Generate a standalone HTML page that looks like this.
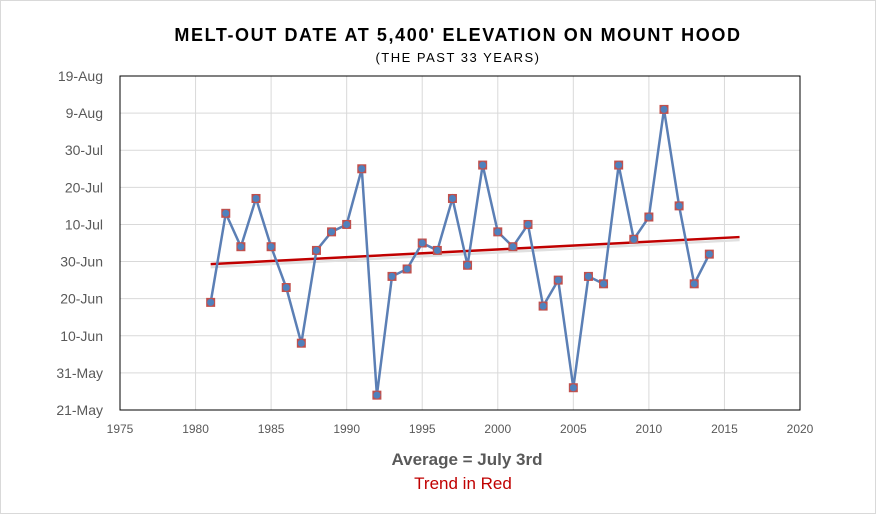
<!DOCTYPE html>
<html><head><meta charset="utf-8"><style>
body{margin:0;background:#fff;}
svg{display:block;font-family:"Liberation Sans",sans-serif;}
</style></head><body>
<svg width="876" height="514" id="c">
<rect x="0.5" y="0.5" width="875" height="513" fill="#fff" stroke="#d9d9d9"/>
<text x="458" y="41" text-anchor="middle" font-size="18" font-weight="bold" letter-spacing="1.6" fill="#000">MELT-OUT DATE AT 5,400' ELEVATION ON MOUNT HOOD</text>
<text x="458" y="62" text-anchor="middle" font-size="13" letter-spacing="1.5" fill="#000">(THE PAST 33 YEARS)</text>
<text x="467" y="465" text-anchor="middle" font-size="17" font-weight="bold" fill="#595959">Average = July 3rd</text>
<text x="463" y="489" text-anchor="middle" font-size="17" fill="#c00000">Trend in Red</text>
<g id="grid"></g><g id="axes"></g><g id="trend"></g><g id="series"></g>
</svg>
<script>
const years=[1981,1982,1983,1984,1985,1986,1987,1988,1989,1990,1991,1992,1993,1994,1995,1996,1997,1998,1999,2000,2001,2002,2003,2004,2005,2006,2007,2008,2009,2010,2011,2012,2013,2014];
const daysAfterMay21=[29,53,44,57,44,33,18,43,48,50,65,4,36,38,45,43,57,39,66,48,44,50,28,35,6,36,34,66,46,52,81,55,34,42];
const trendYears=[1981,2016];
const trendValues=[39.3,46.6];
const yTickLabels=['21-May','31-May','10-Jun','20-Jun','30-Jun','10-Jul','20-Jul','30-Jul','9-Aug','19-Aug'];
const xTicks=[1975,1980,1985,1990,1995,2000,2005,2010,2015,2020];
const L=120,R=800,T=76,B=410;
const xs=v=>L+(v-1975)/(2020-1975)*(R-L);
const ys=v=>B-v/90*(B-T);
const NS='http://www.w3.org/2000/svg';
function mk(p,tag,a){const e=document.createElementNS(NS,tag);for(const k in a)e.setAttribute(k,a[k]);p.appendChild(e);return e;}
const g=document.getElementById('grid'),ax=document.getElementById('axes'),tr=document.getElementById('trend'),se=document.getElementById('series');
xTicks.forEach(t=>{
 const l=mk(g,'line',{x1:xs(t),x2:xs(t),y1:T,y2:B,stroke:'#d9d9d9'});
 
 
 const tx=mk(ax,'text',{x:xs(t),y:B+23,'text-anchor':'middle','font-size':12,fill:'#595959'});
 tx.textContent=t;
 
 
});
yTickLabels.forEach((lab,i)=>{
 const l=mk(g,'line',{x1:L,x2:R,y1:ys(i*10),y2:ys(i*10),stroke:'#d9d9d9'});
 
 
 const tx=mk(ax,'text',{x:103,y:ys(i*10)+5,'text-anchor':'end','font-size':14,fill:'#595959'});
 tx.textContent=lab;
 
 
});
const box=mk(ax,'rect',{x:L,y:T,width:R-L,height:B-T,fill:'none',stroke:'#000','stroke-width':1});


const sh=mk(tr,'line',{x1:xs(trendYears[0]),y1:ys(trendValues[0])+3,x2:xs(trendYears[1]),y2:ys(trendValues[1])+3,stroke:'#e0e0e0','stroke-width':2.5});


const tl=mk(tr,'line',{x1:xs(trendYears[0]),y1:ys(trendValues[0]),x2:xs(trendYears[1]),y2:ys(trendValues[1]),stroke:'#c00000','stroke-width':2.5});


const pl=mk(se,'polyline',{points:years.map((y,i)=>xs(y)+','+ys(daysAfterMay21[i])).join(' '),fill:'none',stroke:'#5b7fb5','stroke-width':2.5});


years.forEach((y,i)=>{
 const cx=xs(y),cy=ys(daysAfterMay21[i]);
 const r=mk(se,'rect',{x:cx-4.5,y:cy-4.5,width:9,height:9,fill:'#c0504d'});
 
 
 const c=mk(se,'circle',{cx:cx,cy:cy,r:3.5,fill:'#4f81bd'});
 
 
});
</script>
</body></html>
